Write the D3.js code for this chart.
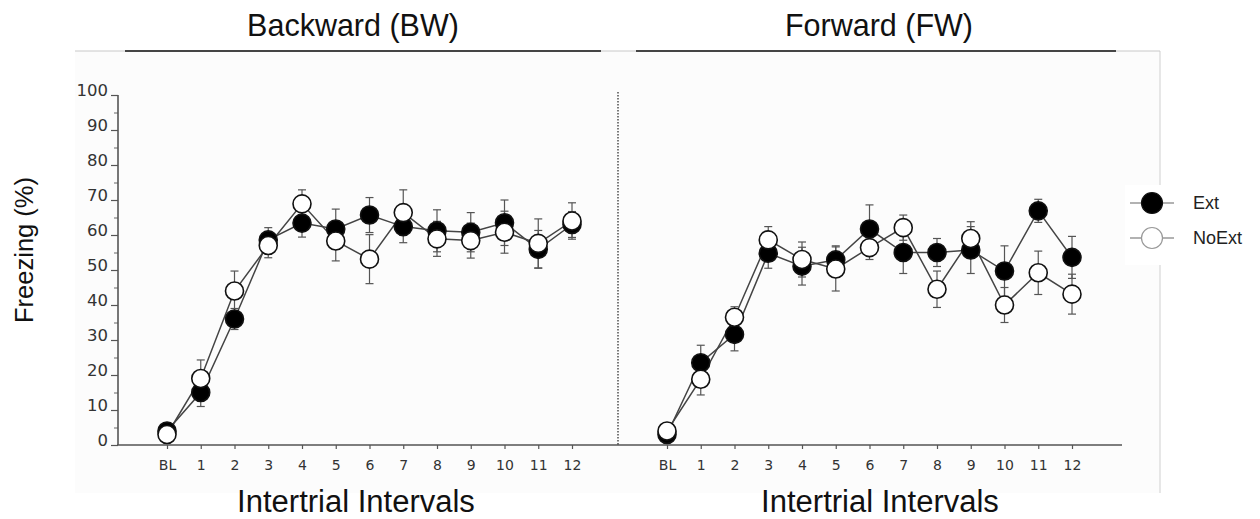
<!DOCTYPE html>
<html>
<head>
<meta charset="utf-8">
<script src="https://cdn.jsdelivr.net/npm/d3@7"></script>
<style>
  body { margin: 0; background: #fff; }
  svg { display: block; }
</style>
</head>
<body>
<div id="chart"></div>
<script>
// categories and values
var intervals = ["BL", "1", "2", "3", "4", "5", "6", "7", "8", "9", "10", "11", "12"];
var yTicks = [0, 10, 20, 30, 40, 50, 60, 70, 80, 90, 100];

var bwExt      = [4, 15, 36, 58.6, 63.4, 61.7, 65.7, 62.4, 61.2, 60.8, 63.5, 55.9, 63];
var bwExtErr   = [1.5, 4, 3, 3.5, 4, 5.7, 5, 4.6, 6, 5.6, 6.5, 5.4, 3.7];
var bwNoExt    = [3, 19, 44, 57, 68.9, 58.3, 53.1, 66.4, 58.9, 58.4, 60.8, 57.6, 64];
var bwNoExtErr = [1, 5.3, 5.7, 3.5, 4, 5.7, 7, 6.5, 5, 5, 6, 7, 5.2];

var fwExt      = [3, 23.5, 31.6, 54.8, 51.1, 52.9, 61.7, 55, 55, 55.7, 49.7, 66.9, 53.6];
var fwExtErr   = [1, 5, 4.7, 4.3, 5.4, 4, 6.9, 6, 4, 6.7, 7.2, 3.3, 6];
var fwNoExt    = [4, 18.8, 36.5, 58.6, 53, 50.3, 56.4, 62.1, 44.5, 59, 40, 49.2, 43.1];
var fwNoExtErr = [1, 4.5, 3, 3.8, 5, 6.3, 3.4, 3.6, 5.2, 4.8, 5, 6.2, 5.7];

var panelTitles = ["Backward (BW)", "Forward (FW)"];
var legendNames = ["Ext", "NoExt"];

var W = 1260, H = 519;

var svg = d3.select("#chart")
  .append("svg")
    .attr("width", W)
    .attr("height", H);

// faint panel background
svg.append("rect")
  .attr("x", 75).attr("y", 51)
  .attr("width", 1085).attr("height", 442)
  .attr("fill", "#fcfcfc");
svg.append("line")
  .attr("x1", 1160).attr("x2", 1160).attr("y1", 51).attr("y2", 493)
  .attr("stroke", "#d0d0d0").attr("stroke-width", 1);
svg.append("line")
  .attr("x1", 75).attr("x2", 1160).attr("y1", 51).attr("y2", 51)
  .attr("stroke", "#c8c8c8").attr("stroke-width", 1);

var y = d3.scaleLinear().domain([0, 100]).range([445, 95]);

// y axis: major + minor ticks
var yAxisG = svg.append("g")
  .attr("transform", "translate(118,0)")
  .call(d3.axisLeft(y).tickValues(yTicks).tickSize(7).tickPadding(3).tickFormat(d3.format("d")));
yAxisG.select(".domain").remove();
yAxisG.selectAll("line").attr("stroke", "#555").attr("stroke-width", 1.2);
yAxisG.selectAll("text")
  .attr("dy", "0")
  .attr("font-family", "DejaVu Sans, sans-serif")
  .attr("font-size", "16.5px")
  .attr("fill", "#333");

var yMinor = svg.append("g")
  .attr("transform", "translate(118,0)")
  .call(d3.axisLeft(y).tickValues(d3.range(5, 100, 10)).tickSize(4).tickFormat(""));
yMinor.select(".domain").remove();
yMinor.selectAll("line").attr("stroke", "#666").attr("stroke-width", 1);

svg.append("line")
  .attr("x1", 118).attr("x2", 118).attr("y1", y(100)).attr("y2", y(0))
  .attr("stroke", "#555").attr("stroke-width", 1.6);
svg.append("line")
  .attr("x1", 117).attr("x2", 1122).attr("y1", y(0)).attr("y2", y(0))
  .attr("stroke", "#555").attr("stroke-width", 1.6);

// dotted separator between panels
svg.append("line")
  .attr("x1", 618).attr("x2", 618).attr("y1", 92).attr("y2", y(0))
  .attr("stroke", "#222").attr("stroke-width", 1.2)
  .attr("stroke-dasharray", "1.5,1.5");

// y label
svg.append("text")
  .attr("transform", "translate(33,250) rotate(-90)")
  .attr("text-anchor", "middle")
  .attr("font-family", "Liberation Sans, Arial, sans-serif")
  .attr("font-size", "25.5px")
  .attr("fill", "#111")
  .text("Freezing (%)");

var panels = [
  {x0: 167, title: panelTitles[0], lineX: [125, 601], titleX: 353, labelX: 356,
   ext: bwExt, extErr: bwExtErr, no: bwNoExt, noErr: bwNoExtErr},
  {x0: 667, title: panelTitles[1], lineX: [636, 1116], titleX: 879, labelX: 880,
   ext: fwExt, extErr: fwExtErr, no: fwNoExt, noErr: fwNoExtErr}
];

panels.forEach(function(p) {
  var x = d3.scalePoint().domain(intervals).range([p.x0, p.x0 + 405]);

  svg.append("text")
    .attr("x", p.titleX).attr("y", 36)
    .attr("text-anchor", "middle")
    .attr("font-family", "Liberation Sans, Arial, sans-serif")
    .attr("font-size", "30.5px")
    .attr("fill", "#111")
    .text(p.title);

  svg.append("line")
    .attr("x1", p.lineX[0]).attr("x2", p.lineX[1]).attr("y1", 51).attr("y2", 51)
    .attr("stroke", "#111").attr("stroke-width", 1.6);

  svg.append("text")
    .attr("x", p.labelX).attr("y", 512)
    .attr("text-anchor", "middle")
    .attr("font-family", "Liberation Sans, Arial, sans-serif")
    .attr("font-size", "31px")
    .attr("fill", "#111")
    .text("Intertrial Intervals");

  var xAxisG = svg.append("g")
    .attr("transform", "translate(0," + y(0) + ")")
    .call(d3.axisBottom(x).tickSize(4).tickPadding(11));
  xAxisG.select(".domain").remove();
  xAxisG.selectAll("line").attr("stroke", "#555").attr("stroke-width", 1.2);
  xAxisG.selectAll("text")
    .attr("font-family", "DejaVu Sans, sans-serif")
    .attr("font-size", "14px")
    .attr("fill", "#333");

  var series = [
    {vals: p.ext, err: p.extErr, fill: "#000"},
    {vals: p.no, err: p.noErr, fill: "#fff"}
  ];

  var line = d3.line()
    .x(function(d, i) { return x(intervals[i]); })
    .y(function(d) { return y(d); });

  // connecting lines
  series.forEach(function(s) {
    svg.append("path")
      .datum(s.vals)
      .attr("d", line)
      .attr("fill", "none")
      .attr("stroke", "#444")
      .attr("stroke-width", 1.5);
  });

  // error bars
  series.forEach(function(s) {
    var g = svg.append("g");
    s.vals.forEach(function(v, i) {
      var xx = x(intervals[i]);
      g.append("line")
        .attr("x1", xx).attr("x2", xx)
        .attr("y1", y(v - s.err[i])).attr("y2", y(v + s.err[i]))
        .attr("stroke", "#555").attr("stroke-width", 1.2);
      [v - s.err[i], v + s.err[i]].forEach(function(e) {
        g.append("line")
          .attr("x1", xx - 4).attr("x2", xx + 4)
          .attr("y1", y(e)).attr("y2", y(e))
          .attr("stroke", "#555").attr("stroke-width", 1.2);
      });
    });
  });

  // markers
  series.forEach(function(s) {
    svg.append("g").selectAll("circle")
      .data(s.vals)
      .join("circle")
        .attr("cx", function(d, i) { return x(intervals[i]); })
        .attr("cy", function(d) { return y(d); })
        .attr("r", 9)
        .attr("fill", s.fill)
        .attr("stroke", "#111")
        .attr("stroke-width", 1.6);
  });
});

// legend
var legend = svg.append("g");
legend.append("rect")
  .attr("x", 1125).attr("y", 185).attr("width", 135).attr("height", 80)
  .attr("fill", "#fff");
var legendY = d3.scalePoint().domain(legendNames).range([203, 238]);
var legendFill = d3.scaleOrdinal().domain(legendNames).range(["#000", "#fff"]);
legendNames.forEach(function(n) {
  legend.append("line")
    .attr("x1", 1130).attr("x2", 1174)
    .attr("y1", legendY(n)).attr("y2", legendY(n))
    .attr("stroke", "#666").attr("stroke-width", 1.2);
  legend.append("circle")
    .attr("cx", 1152).attr("cy", legendY(n)).attr("r", 10.5)
    .attr("fill", legendFill(n))
    .attr("stroke", n === "Ext" ? "#111" : "#999")
    .attr("stroke-width", 1.2);
  legend.append("text")
    .attr("x", 1193).attr("y", legendY(n) + 6)
    .attr("font-family", "Liberation Sans, Arial, sans-serif")
    .attr("font-size", "18px")
    .attr("fill", "#222")
    .text(n);
});
</script>
</body>
</html>
